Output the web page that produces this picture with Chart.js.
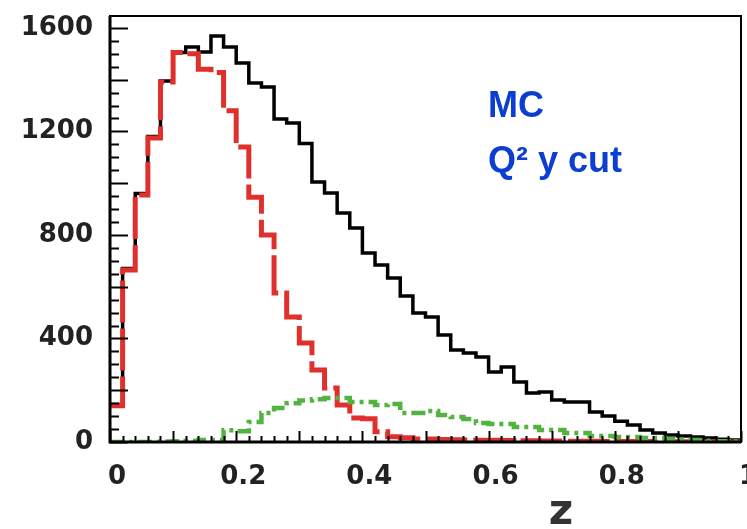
<!DOCTYPE html>
<html><head><meta charset="utf-8">
<script src="https://cdn.jsdelivr.net/npm/chart.js@4.4.1/dist/chart.umd.min.js"></script>
<style>html,body{margin:0;padding:0;background:#fff;} canvas{display:block;}</style>
</head><body>
<canvas id="c" width="747" height="529"></canvas>
<script>
// ---- data (50 bins in z from 0 to 1) ----
const binWidth = 0.02;
const zRange = [0, 1];
const histTotal = [145, 670, 960, 1180, 1395, 1505, 1526, 1507, 1569, 1526,
  1464, 1387, 1372, 1248, 1233, 1153, 1005, 962, 885, 827,
  730, 684, 634, 564, 498, 483, 413, 355, 344, 328,
  270, 290, 232, 189, 193, 162, 155, 155, 116, 100,
  80, 66, 46, 35, 27, 23, 19, 15, 11, 8];
const histDashed = [140, 665, 954, 1175, 1391, 1505, 1500, 1440, 1428, 1280,
  1140, 946, 800, 576, 483, 383, 278, 209, 143, 93,
  90, 40, 20, 16, 12, 12, 10, 9, 8, 7,
  7, 6, 5, 5, 4, 4, 3, 3, 3, 2,
  2, 2, 2, 1, 1, 1, 1, 1, 0, 0];
const histDashDot = [0, 0, 0, 0, 2, 3, 4, 8, 8, 45,
  42, 77, 112, 131, 150, 160, 165, 170, 170, 155,
  155, 143, 147, 112, 112, 120, 104, 97, 89, 73,
  70, 70, 58, 58, 46, 46, 35, 35, 23, 23,
  19, 19, 15, 15, 12, 10, 8, 5, 3, 2];
const yMax = 1646;
const yTickValues = [0, 400, 800, 1200, 1600];
const xTickValues = [0, 0.2, 0.4, 0.6, 0.8, 1];
const xTickLabels = ['0', '0.2', '0.4', '0.6', '0.8', '1'];
const annotationLines = ['MC', 'Q\u00B2 y cut'];
const axisTitle = 'z';

function toSteps(vals) {
  const pts = vals.map((v, i) => ({ x: +(i * binWidth).toFixed(4), y: v }));
  pts.push({ x: zRange[1], y: vals[vals.length - 1] });
  return pts;
}

const decor = {
  id: 'decor',
  afterDatasetsDraw(chart) {
    const { ctx, chartArea: a, scales: { x, y } } = chart;
    ctx.save();
    ctx.strokeStyle = '#000';
    ctx.lineWidth = 2;
    for (let v = 0; v <= yMax; v += 50) {
      const py = Math.round(y.getPixelForValue(v)) + 0.5;
      const len = (v % 200 === 0) ? 18 : 9;
      ctx.beginPath(); ctx.moveTo(a.left, py); ctx.lineTo(a.left + len, py); ctx.stroke();
    }
    for (let i = 0; i <= 50; i++) {
      const px = Math.round(x.getPixelForValue(i * binWidth)) + 0.5;
      const len = (i % 5 === 0) ? 11 : 6;
      ctx.beginPath(); ctx.moveTo(px, a.bottom); ctx.lineTo(px, a.bottom - len); ctx.stroke();
    }
    ctx.lineWidth = 2;
    ctx.strokeRect(a.left, a.top, a.right - a.left, a.bottom - a.top);
    ctx.lineWidth = 3;
    ctx.beginPath(); ctx.moveTo(a.left, a.top); ctx.lineTo(a.left, a.bottom); ctx.lineTo(a.right, a.bottom); ctx.stroke();
    ctx.fillStyle = '#0c3ed2';
    ctx.font = 'bold 36px "Liberation Sans", Arial, sans-serif';
    ctx.textBaseline = 'alphabetic';
    ctx.textAlign = 'left';
    ctx.fillText(annotationLines[0], 488, 117);
    ctx.fillText(annotationLines[1], 488, 172);
    ctx.fillStyle = '#333';
    ctx.font = 'bold 42px "DejaVu Sans", sans-serif';
    ctx.textAlign = 'center';
    ctx.fillText(axisTitle, 561, 524);
    ctx.restore();
  }
};

const common = { pointRadius: 0, fill: false, stepped: 'before', tension: 0 };
const tickFont = { family: 'DejaVu Sans', weight: 'bold', size: 26 };

new Chart(document.getElementById('c'), {
  type: 'line',
  data: {
    datasets: [
      Object.assign({ data: toSteps(histDashDot), borderColor: '#52b340', borderWidth: 4.5, borderDash: [14, 5, 4, 5] }, common),
      Object.assign({ data: toSteps(histDashed), borderColor: '#e0302d', borderWidth: 5, borderDash: [42, 6] }, common),
      Object.assign({ data: toSteps(histTotal), borderColor: '#000000', borderWidth: 3.5 }, common)
    ]
  },
  options: {
    responsive: false,
    animation: false,
    layout: { padding: { top: 16, right: 6, left: 0, bottom: 0 } },
    plugins: { legend: { display: false }, tooltip: { enabled: false } },
    scales: {
      x: {
        type: 'linear', min: zRange[0], max: zRange[1],
        grid: { display: false }, border: { display: false },
        afterBuildTicks: (s) => { s.ticks = xTickValues.map(v => ({ value: v })); },
        ticks: {
          autoSkip: false, maxRotation: 0, padding: 12, labelOffset: 7,
          color: '#222', font: tickFont,
          callback: (v, i) => xTickLabels[i]
        },
        afterFit: (s) => { s.height = 87; s.paddingRight = 0; s.paddingLeft = 0; }
      },
      y: {
        type: 'linear', min: 0, max: yMax,
        grid: { display: false }, border: { display: false },
        afterBuildTicks: (s) => { s.ticks = yTickValues.map(v => ({ value: v })); },
        ticks: {
          autoSkip: false, padding: 9,
          color: '#222', font: tickFont,
          callback: (v) => String(v)
        },
        afterFit: (s) => { s.width = 110; s.paddingTop = 0; s.paddingBottom = 0; }
      }
    }
  },
  plugins: [decor]
});
</script>
</body></html>
